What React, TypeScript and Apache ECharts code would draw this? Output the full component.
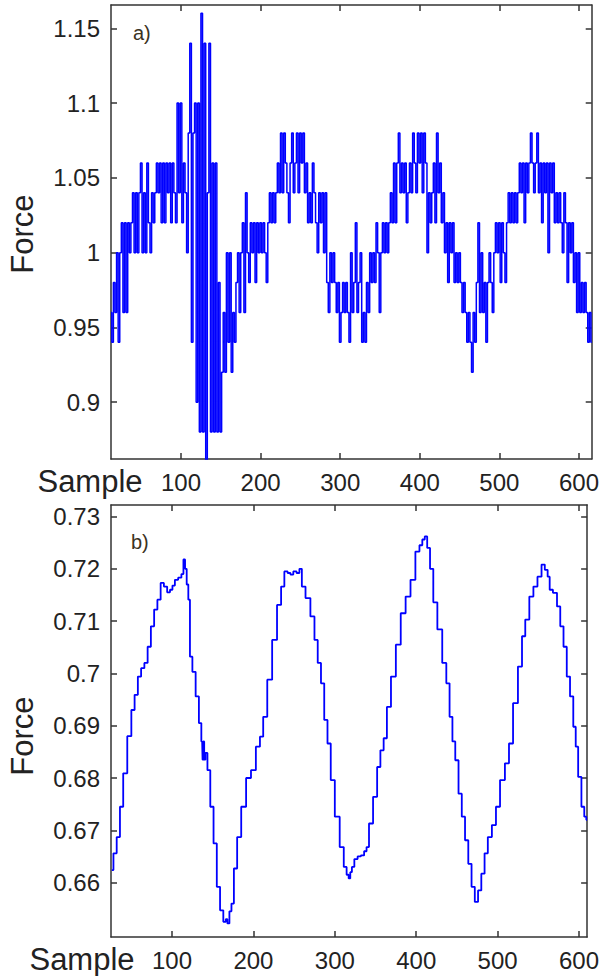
import React, { useEffect, useRef } from "react";
import * as echarts from "echarts";

// ---------- Panel a) : quantised force, one value every 2 samples from sample 12 ----------
const topFirstSample = 12;
const topSampleStep = 2;
const topForceA = [0.96, 0.94, 0.98, 0.96, 1.0, 0.94, 1.0, 1.02, 0.96, 1.02, 0.96, 1.02, 1.0, 1.02, 1.04, 1.0, 1.04, 1.0, 1.04, 1.06, 1.0, 1.04, 1.0, 1.06, 1.02];
const topForceB = [1.0, 1.04, 1.02, 1.04, 1.06, 1.04, 1.06, 1.02, 1.06, 1.02, 1.06, 1.04, 1.06, 1.02, 1.06, 1.04, 1.02, 1.1, 1.04, 1.1, 1.02, 1.06, 1.04, 1.0, 1.08];
const topForceC = [1.14, 0.94, 1.08, 1.1, 0.9, 1.1, 0.88, 1.16, 0.88, 1.14, 0.86, 1.04, 1.14, 0.88, 1.06, 0.88, 1.06, 0.88, 0.98, 0.88, 0.92, 0.96, 0.92, 1.0, 0.94];
const topForceD = [1.0, 0.92, 0.96, 0.94, 0.98, 1.0, 0.96, 1.0, 1.02, 0.96, 1.04, 1.0, 0.98, 1.02, 1.0, 1.02, 0.98, 1.02, 1.0, 1.02, 1.0, 1.02, 1.0, 0.98, 1.02];
const topForceE = [1.04, 1.02, 1.04, 1.02, 1.04, 1.06, 1.04, 1.08, 1.04, 1.08, 1.06, 1.04, 1.02, 1.06, 1.08, 1.04, 1.06, 1.08, 1.04, 1.08, 1.06, 1.08, 1.04, 1.06, 1.02];
const topForceF = [1.04, 1.02, 1.06, 1.04, 1.02, 1.0, 1.04, 1.02, 1.04, 1.0, 1.04, 0.98, 0.96, 1.0, 0.98, 1.0, 0.98, 0.96, 0.98, 0.94, 0.96, 0.98, 0.96, 0.98, 0.96];
const topForceG = [0.94, 1.0, 0.96, 0.98, 1.02, 0.96, 0.98, 1.0, 0.94, 0.96, 0.94, 0.98, 0.96, 1.0, 0.98, 1.0, 0.98, 1.02, 1.0, 0.96, 1.0, 1.02, 1.0, 1.02, 1.0];
const topForceH = [1.02, 1.04, 1.02, 1.06, 1.02, 1.06, 1.08, 1.04, 1.06, 1.04, 1.06, 1.02, 1.04, 1.06, 1.04, 1.08, 1.06, 1.04, 1.08, 1.06, 1.08, 1.04, 1.08, 1.06, 1.0];
const topForceI = [1.04, 1.02, 1.04, 1.06, 1.02, 1.08, 1.04, 1.06, 1.02, 1.04, 1.0, 1.02, 0.98, 1.02, 1.0, 1.02, 0.98, 1.0, 0.98, 1.0, 0.98, 0.96, 0.98, 0.96, 0.94];
const topForceJ = [0.96, 0.94, 0.92, 0.96, 0.94, 0.98, 1.02, 0.96, 1.0, 0.96, 0.98, 0.94, 0.98, 1.0, 0.98, 0.96, 1.0, 1.02, 1.0, 1.02, 0.98, 1.02, 1.0, 0.98, 1.02];
const topForceK = [1.04, 1.02, 1.04, 1.02, 1.04, 1.02, 1.04, 1.06, 1.04, 1.06, 1.02, 1.06, 1.04, 1.06, 1.08, 1.06, 1.04, 1.06, 1.08, 1.04, 1.06, 1.02, 1.06, 1.04, 1.06];
const topForceL = [1.0, 1.06, 1.04, 1.06, 1.02, 1.04, 1.02, 1.04, 1.02, 1.0, 1.04, 1.02, 0.98, 1.02, 1.0, 1.02, 0.98, 1.0, 0.96, 1.0, 0.96, 0.98, 0.96, 0.98, 0.96, 0.94, 0.96, 0.94];

// ---------- Panel b) : smoothed force ----------
const bottomSamplesA = [26, 30, 34, 38, 42, 48, 52, 56, 60, 64, 68, 72, 76, 80, 84, 88, 92, 96, 99, 102, 105, 110, 113, 115, 117, 119, 121, 123, 127, 131, 135, 137, 138, 139, 140, 142, 145, 149, 153, 157, 161, 165, 167, 169, 172, 174, 178, 182, 188, 194];
const bottomForceA = [0.6624, 0.6656, 0.6687, 0.6745, 0.6809, 0.688, 0.693, 0.6959, 0.6994, 0.701, 0.702, 0.7051, 0.709, 0.7122, 0.7141, 0.7173, 0.7166, 0.7155, 0.716, 0.7168, 0.7179, 0.7183, 0.719, 0.7218, 0.72, 0.717, 0.7141, 0.7032, 0.7003, 0.6956, 0.6905, 0.687, 0.6835, 0.687, 0.6835, 0.6848, 0.6815, 0.6745, 0.6675, 0.6592, 0.6547, 0.6525, 0.653, 0.6522, 0.6545, 0.656, 0.6627, 0.6687, 0.6745, 0.68];
const bottomSamplesB = [200, 206, 210, 214, 220, 226, 232, 236, 240, 244, 247, 251, 255, 258, 261, 267, 273, 277, 281, 285, 289, 293, 297, 303, 309, 313, 316, 318, 320, 322, 326, 330, 334, 338, 340, 344, 350, 354, 358, 362, 366, 372, 378, 384, 390, 396, 402, 406, 409, 412];
const bottomForceB = [0.6815, 0.686, 0.6879, 0.6917, 0.6988, 0.7064, 0.7131, 0.7166, 0.7195, 0.7192, 0.7189, 0.7195, 0.7192, 0.72, 0.7166, 0.7144, 0.7109, 0.7064, 0.702, 0.6981, 0.6911, 0.6866, 0.6796, 0.6726, 0.6668, 0.663, 0.6615, 0.6608, 0.662, 0.663, 0.6645, 0.665, 0.6652, 0.666, 0.6668, 0.6713, 0.6764, 0.6821, 0.6853, 0.6876, 0.6936, 0.6994, 0.7055, 0.7115, 0.7147, 0.7179, 0.7233, 0.7245, 0.7256, 0.7262];
const bottomSamplesC = [415, 419, 423, 429, 435, 439, 443, 446, 450, 454, 458, 462, 466, 470, 474, 478, 482, 486, 490, 496, 500, 506, 512, 516, 522, 528, 532, 536, 542, 546, 552, 556, 560, 563, 565, 571, 575, 579, 583, 587, 591, 595, 597, 601, 605, 608, 610];
const bottomForceC = [0.724, 0.72, 0.7136, 0.7084, 0.702, 0.6981, 0.6917, 0.687, 0.6834, 0.677, 0.6726, 0.6681, 0.6636, 0.6592, 0.6563, 0.6585, 0.6617, 0.6656, 0.6687, 0.671, 0.6745, 0.6796, 0.6828, 0.6866, 0.6943, 0.7013, 0.7071, 0.7103, 0.7147, 0.7166, 0.7185, 0.7208, 0.7198, 0.7185, 0.716, 0.7154, 0.7128, 0.709, 0.7051, 0.6994, 0.6956, 0.6898, 0.686, 0.6802, 0.6745, 0.6726, 0.672];

// ---------- Ticks ----------
const sampleTicks = [100, 200, 300, 400, 500, 600];
const topForceTicks = [0.9, 0.95, 1, 1.05, 1.1, 1.15];
const bottomForceTicks = [0.66, 0.67, 0.68, 0.69, 0.7, 0.71, 0.72, 0.73];

const FONT = '"Liberation Sans", Arial, sans-serif';
const TEXT_COLOR = "#222";
const AXIS_COLOR = "#333";

function makeX(gridIndex: number, min: number, max: number, position: string, labels: boolean) {
  return {
    type: "value",
    gridIndex,
    min,
    max,
    position,
    axisLine: { show: true, onZero: false, lineStyle: { color: AXIS_COLOR, width: 1.5 } },
    axisTick: { show: true, inside: true, length: 6, customValues: sampleTicks, lineStyle: { color: AXIS_COLOR, width: 1.5 } },
    axisLabel: labels
      ? { show: true, customValues: sampleTicks, margin: 11, fontSize: 24, fontFamily: FONT, color: TEXT_COLOR }
      : { show: false },
    splitLine: { show: false },
  };
}

function makeY(gridIndex: number, min: number, max: number, position: string, labels: boolean, ticks: number[]) {
  return {
    type: "value",
    gridIndex,
    min,
    max,
    position,
    axisLine: { show: true, onZero: false, lineStyle: { color: AXIS_COLOR, width: 1.5 } },
    axisTick: { show: true, inside: true, length: 6, customValues: ticks, lineStyle: { color: AXIS_COLOR, width: 1.5 } },
    axisLabel: labels
      ? { show: true, customValues: ticks, margin: 11, fontSize: 24, fontFamily: FONT, color: TEXT_COLOR }
      : { show: false },
    splitLine: { show: false },
  };
}

export default function App() {
  const ref = useRef<HTMLDivElement>(null);

  useEffect(() => {
    if (!ref.current) return;
    const chart = echarts.init(ref.current, null, { renderer: "svg" });

    const topValues = [
      ...topForceA, ...topForceB, ...topForceC, ...topForceD, ...topForceE, ...topForceF,
      ...topForceG, ...topForceH, ...topForceI, ...topForceJ, ...topForceK, ...topForceL,
    ];
    const topData = topValues.map((v, i) => [topFirstSample + i * topSampleStep, v]);

    const bSamples = [...bottomSamplesA, ...bottomSamplesB, ...bottomSamplesC];
    const bForce = [...bottomForceA, ...bottomForceB, ...bottomForceC];
    const bottomData = bSamples.map((s, i) => [s, bForce[i]]);

    const labelText = (text: string, x: number, y: number, size: number, rotate = 0, align = "center", color = TEXT_COLOR) => ({
      type: "text",
      x,
      y,
      rotation: rotate,
      style: {
        text,
        fontSize: size,
        fontFamily: FONT,
        fill: color,
        textAlign: align,
        textVerticalAlign: "middle",
      },
    });

    chart.setOption({
      animation: false,
      backgroundColor: "#ffffff",
      grid: [
        { left: 111, top: 5, width: 481, height: 454 },
        { left: 111, top: 505, width: 481, height: 432 },
      ],
      xAxis: [
        makeX(0, 12, 616, "bottom", true),
        makeX(0, 12, 616, "top", false),
        makeX(1, 25, 610, "bottom", true),
        makeX(1, 25, 610, "top", false),
      ],
      yAxis: [
        makeY(0, 0.862, 1.1656, "left", true, topForceTicks),
        makeY(0, 0.862, 1.1656, "right", false, topForceTicks),
        makeY(1, 0.6496, 0.7322, "left", true, bottomForceTicks),
        makeY(1, 0.6496, 0.7322, "right", false, bottomForceTicks),
      ],
      series: [
        {
          type: "line",
          xAxisIndex: 0,
          yAxisIndex: 0,
          data: topData,
          symbol: "none",
          step: "middle",
          clip: true,
          lineStyle: { color: "#0000ff", width: 1.5 },
        },
        {
          type: "line",
          xAxisIndex: 2,
          yAxisIndex: 2,
          data: bottomData,
          symbol: "none",
          step: "middle",
          clip: true,
          lineStyle: { color: "#0000ff", width: 1.8 },
        },
      ],
      graphic: [
        labelText("Sample", 90, 481, 31),
        labelText("Sample", 82, 959, 31),
        labelText("Force", 22, 234, 31, Math.PI / 2),
        labelText("Force", 22, 736, 31, Math.PI / 2),
        labelText("a)", 133, 33, 20, 0, "left", "#3b3222"),
        labelText("b)", 131, 542, 20, 0, "left", "#3b3222"),
      ],
    });

    return () => chart.dispose();
  }, []);

  return (
    <div
      ref={ref}
      style={{ position: "absolute", left: 0, top: 0, width: 602, height: 976, background: "#fff" }}
    />
  );
}
